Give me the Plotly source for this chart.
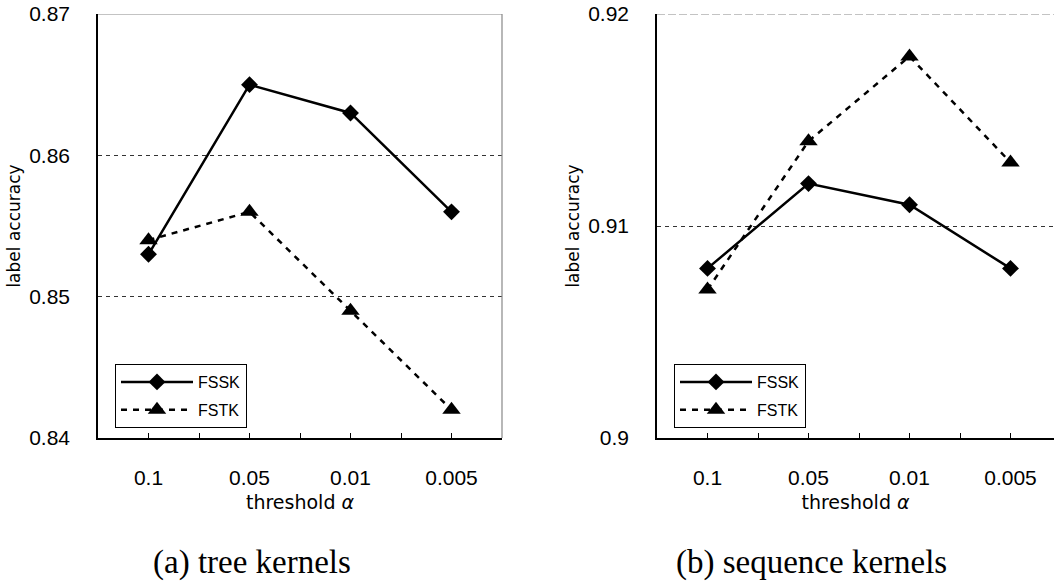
import plotly.graph_objects as go

thresholds = ["0.1", "0.05", "0.01", "0.005"]
tree_fssk = [0.853, 0.865, 0.863, 0.856]
tree_fstk = [0.854, 0.856, 0.849, 0.842]
seq_fssk = [0.908, 0.912, 0.911, 0.908]
seq_fstk = [0.907, 0.914, 0.918, 0.913]
tree_yticks = [0.84, 0.85, 0.86, 0.87]
seq_yticks = [0.90, 0.91, 0.92]
captions = ["(a) tree kernels", "(b) sequence kernels"]

xpos = list(range(len(thresholds)))
tickvals = [i * 0.5 for i in range(2 * len(thresholds) - 1)]
ticktext = [thresholds[int(v)] if v == int(v) else "" for v in tickvals]

fig = go.Figure()

def add_series(y, name, xa, ya, legend, solid):
    fig.add_trace(go.Scatter(
        x=xpos, y=y, name=name, xaxis=xa, yaxis=ya, legend=legend,
        legendgroup=name + legend,
        mode="lines+markers",
        line=dict(color="black", width=2.5, dash="solid" if solid else "6px,6px"),
        marker=dict(symbol="diamond" if solid else "triangle-up", size=13 if solid else 16,
                    color="black"),
    ))

add_series(tree_fssk, "FSSK", "x", "y", "legend", True)
add_series(tree_fstk, "FSTK", "x", "y", "legend", False)
add_series(seq_fssk, "FSSK", "x2", "y2", "legend2", True)
add_series(seq_fstk, "FSTK", "x2", "y2", "legend2", False)

W, H = 1054, 582
tick_font = dict(family="Liberation Sans, Arial, sans-serif", size=21, color="black")
title_font = dict(family="DejaVu Sans, sans-serif", size=17, color="black")

xcommon = dict(
    tickmode="array", tickvals=tickvals, ticktext=ticktext,
    ticks="inside", ticklen=5, tickwidth=1, tickcolor="black",
    showline=True, linecolor="black", linewidth=1.5,
    showgrid=False, zeroline=False, tickfont=tick_font,
    ticklabelstandoff=20,
    title=dict(text="threshold <i>α</i>", font=dict(family="DejaVu Sans, sans-serif", size=19, color="black"), standoff=8),
)
ycommon = dict(
    tickmode="array", showline=True, linecolor="black", linewidth=1.5,
    ticks="", showgrid=True, gridcolor="#333333", gridwidth=1, griddash="4px,4px",
    zeroline=False, tickfont=tick_font, ticklabelstandoff=22,
    title=dict(text="label accuracy", font=title_font, standoff=4),
)

l_dom = [98 / W, 502 / W]
r_dom = [657 / W, 1.0]
r_width = W - 657
spacing = (502 - 98) / 4.0

legend_font = dict(family="Liberation Sans, Arial, sans-serif", size=16, color="black")
fig.update_layout(
    width=W, height=H,
    margin=dict(l=0, r=0, t=14, b=144),
    paper_bgcolor="white", plot_bgcolor="white",
    showlegend=True,
    xaxis=dict(domain=l_dom, range=[-0.5, 3.5], anchor="y", **xcommon),
    yaxis=dict(domain=[0, 1], range=[0.84, 0.87], anchor="x",
               tickvals=tree_yticks, ticktext=[f"{v:.2f}" for v in tree_yticks], **ycommon),
    xaxis2=dict(domain=r_dom, range=[-0.5, -0.5 + r_width / spacing], anchor="y2", **xcommon),
    yaxis2=dict(domain=[0, 1], range=[0.90, 0.92], anchor="x2",
                tickvals=seq_yticks, ticktext=["0.9", "0.91", "0.92"], **ycommon),
    legend=dict(x=115 / W, y=(438 - 364) / 424, xanchor="left", yanchor="top",
                bordercolor="black", borderwidth=1, bgcolor="white",
                font=legend_font, tracegroupgap=4, itemwidth=72),
    legend2=dict(x=674 / W, y=(438 - 364) / 424, xanchor="left", yanchor="top",
                 bordercolor="black", borderwidth=1, bgcolor="white",
                 font=legend_font, tracegroupgap=4, itemwidth=72),
)

# plot-area borders (top and right), gray
fig.add_shape(type="line", xref="x domain", yref="y", x0=0, x1=1, y0=0.87, y1=0.87,
              line=dict(color="#888888", width=1.2))
fig.add_shape(type="line", xref="x domain", yref="y domain", x0=1, x1=1, y0=0, y1=1,
              line=dict(color="#888888", width=1.2))
fig.add_shape(type="line", xref="x2 domain", yref="y2", x0=0, x1=1, y0=0.92, y1=0.92,
              line=dict(color="#888888", width=1.2, dash="8px,3px"))

# captions
for cap, cx in zip(captions, [252, 811]):
    fig.add_annotation(text=cap, xref="paper", yref="paper", x=cx / W, y=-(562 - 438) / 424,
                       showarrow=False, xanchor="center", yanchor="middle",
                       font=dict(family="Liberation Serif, Times New Roman, serif", size=33, color="black"))

fig.write_html("out.html")
